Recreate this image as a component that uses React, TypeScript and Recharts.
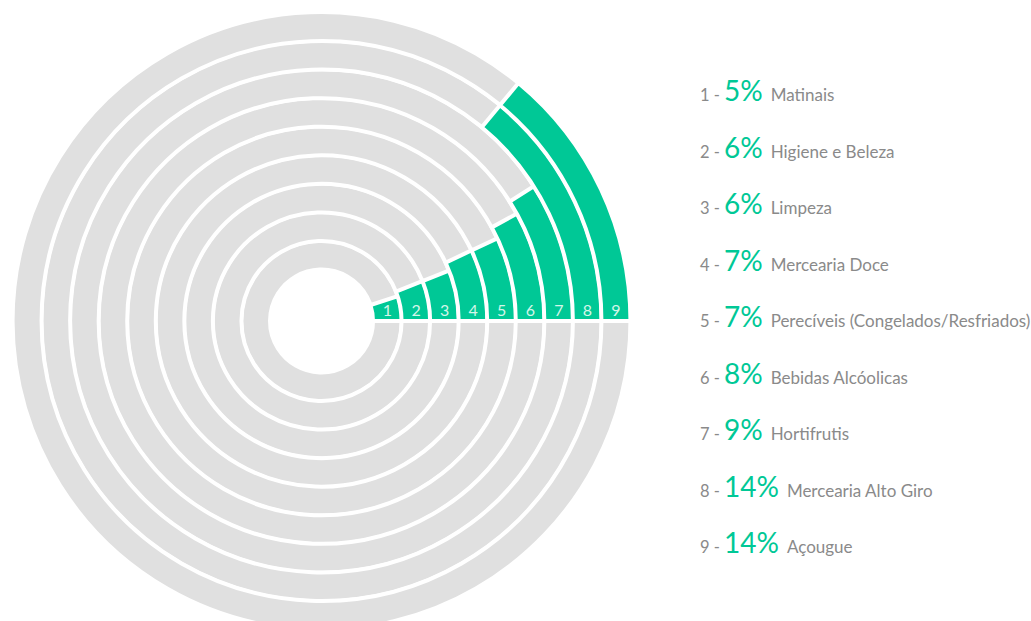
import React from "react";
import {
  RadialBarChart,
  RadialBar,
  PolarAngleAxis,
  LabelList,
  Legend,
} from "recharts";

const ids = [1, 2, 3, 4, 5, 6, 7, 8, 9];
const shares = [5, 6, 6, 7, 7, 8, 9, 14, 14];
const categories = [
  "Matinais",
  "Higiene e Beleza",
  "Limpeza",
  "Mercearia Doce",
  "Perecíveis (Congelados/Resfriados)",
  "Bebidas Alcóolicas",
  "Hortifrutis",
  "Mercearia Alto Giro",
  "Açougue",
];

const GREEN = "#00c896";
const GRAY_RING = "#e0e0e0";
const GRAY_TEXT = "#8a8a8a";
const FONT = "Lato, 'Open Sans', sans-serif";

const data = ids.map((id, i) => ({ id, value: shares[i], name: categories[i] }));

const RingNumber = (props: any) => {
  const vb = props.viewBox || props;
  const r = (vb.innerRadius + vb.outerRadius) / 2;
  return (
    <text
      x={vb.cx + r}
      y={vb.cy - 5}
      textAnchor="middle"
      fontSize={16}
      fontFamily={FONT}
      fill="#d4f6e9"
    >
      {props.value}
    </text>
  );
};

const SideLegend = () => (
  <div style={{ fontFamily: FONT }}>
    {data.map((d) => (
      <div
        key={d.id}
        style={{
          height: 56.5,
          display: "flex",
          alignItems: "center",
          whiteSpace: "nowrap",
        }}
      >
        <span style={{ display: "flex", alignItems: "baseline" }}>
          <span style={{ fontSize: 16.5, color: GRAY_TEXT }}>{d.id} -</span>
          <span style={{ fontSize: 28, color: GREEN, marginLeft: 4 }}>
            {d.value}%
          </span>
          <span style={{ fontSize: 17, color: GRAY_TEXT, marginLeft: 8 }}>
            {d.name}
          </span>
        </span>
      </div>
    ))}
  </div>
);

export default function App() {
  return (
    <div style={{ position: "absolute", left: 0, top: 0, background: "#fff" }}>
      <RadialBarChart
        width={1031}
        height={621}
        data={data}
        cx={321.5}
        cy={321}
        innerRadius={51.5}
        outerRadius={308.5}
        startAngle={0}
        endAngle={360}
        barCategoryGap={0}
        margin={{ top: 0, right: 0, bottom: 0, left: 0 }}
      >
        <PolarAngleAxis type="number" domain={[0, 100]} tick={false} axisLine={false} />
        <RadialBar
          dataKey="value"
          fill={GREEN}
          stroke="#fff"
          strokeWidth={4}
          background={{ fill: GRAY_RING, stroke: "#fff", strokeWidth: 4 }}
          isAnimationActive={false}
        >
          <LabelList dataKey="id" content={RingNumber} />
        </RadialBar>
        <Legend
          content={<SideLegend />}
          wrapperStyle={{ position: "absolute", left: 700, top: 62, width: 331 }}
        />
      </RadialBarChart>
    </div>
  );
}
